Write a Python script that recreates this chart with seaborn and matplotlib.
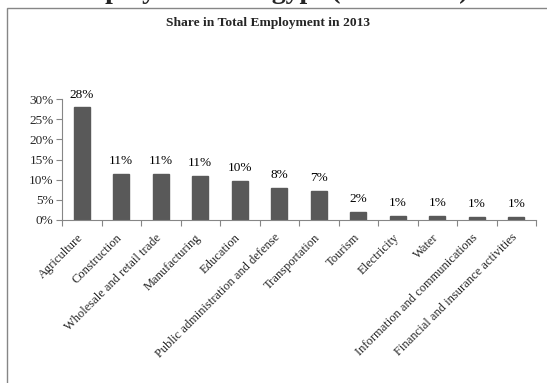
import matplotlib
matplotlib.use("Agg")
import matplotlib.pyplot as plt
import seaborn as sns
import pandas as pd
from matplotlib.patches import Rectangle
from matplotlib.ticker import FuncFormatter, FixedLocator
from matplotlib.transforms import ScaledTranslation

sectors = ["Agriculture", "Construction", "Wholesale and retail trade", "Manufacturing",
           "Education", "Public administration and defense", "Transportation", "Tourism",
           "Electricity", "Water", "Information and communications",
           "Financial and insurance activities"]
shares = [0.279, 0.114, 0.113, 0.108, 0.097, 0.079, 0.071, 0.021, 0.010, 0.009, 0.008, 0.007]
yticks = [0.0, 0.05, 0.10, 0.15, 0.20, 0.25, 0.30]

sns.set_theme(style="white")
plt.rcParams['font.family'] = ['Liberation Serif', 'DejaVu Serif']

df = pd.DataFrame({"sector": sectors, "share": shares})

fig = plt.figure(figsize=(5.47, 3.83), dpi=100)
ax = fig.add_axes([62/547, 1-220/383, (536-62)/547, (220-99)/383])

sns.barplot(data=df, x="sector", y="share", color="#595959", width=0.4,
            saturation=1, ax=ax, edgecolor="#595959")

ax.set_ylim(0, 0.30)
ax.set_xlim(-0.5, len(sectors)-0.5)
ax.set_yticks(yticks)
ax.yaxis.set_major_formatter(FuncFormatter(lambda v, p: f"{v*100:.0f}%"))
ax.set_xlabel("")
ax.set_ylabel("")

for i, v in enumerate(shares):
    ax.annotate(f"{round(v*100):.0f}%", (i, v), xytext=(0, 5), textcoords="offset points",
                ha="center", va="bottom", fontsize=9.5, color="black")

ax.xaxis.set_major_locator(FixedLocator(range(len(sectors))))
ax.set_xticklabels(sectors, rotation=45, ha="right", rotation_mode="anchor", fontsize=9)
ax.tick_params(axis="x", length=0, pad=4)
shift = ScaledTranslation(-0.05, -0.06, fig.dpi_scale_trans)
for lab in ax.get_xticklabels():
    lab.set_transform(lab.get_transform() + shift)
ax.xaxis.set_minor_locator(FixedLocator([k - 0.5 for k in range(len(sectors)+1)]))
ax.tick_params(axis="x", which="minor", length=4, color="#868686", width=0.8, direction="out", bottom=True)
ax.tick_params(axis="y", labelsize=9.5, length=4, color="#868686", width=0.8, direction="out", left=True, pad=2)

for s in ["top", "right"]:
    ax.spines[s].set_visible(False)
for s in ["left", "bottom"]:
    ax.spines[s].set_color("#868686")
    ax.spines[s].set_linewidth(0.8)

fig.text(268/547, 1-23/383, "Share in Total Employment in 2013", ha="center", va="center",
         fontsize=9.7, fontweight="bold")

fig.text(469/547, 1+2/383, "Total Employment in Egypt (% of total)", ha="right", va="baseline",
         fontsize=20, fontweight="bold")

fig.patches.append(Rectangle((7/547, -0.1), 1.2, 1 - 8/383 + 0.1, transform=fig.transFigure,
                             fill=False, edgecolor="#868686", linewidth=1.0, clip_on=False))

fig.savefig("out.png", dpi=100)
